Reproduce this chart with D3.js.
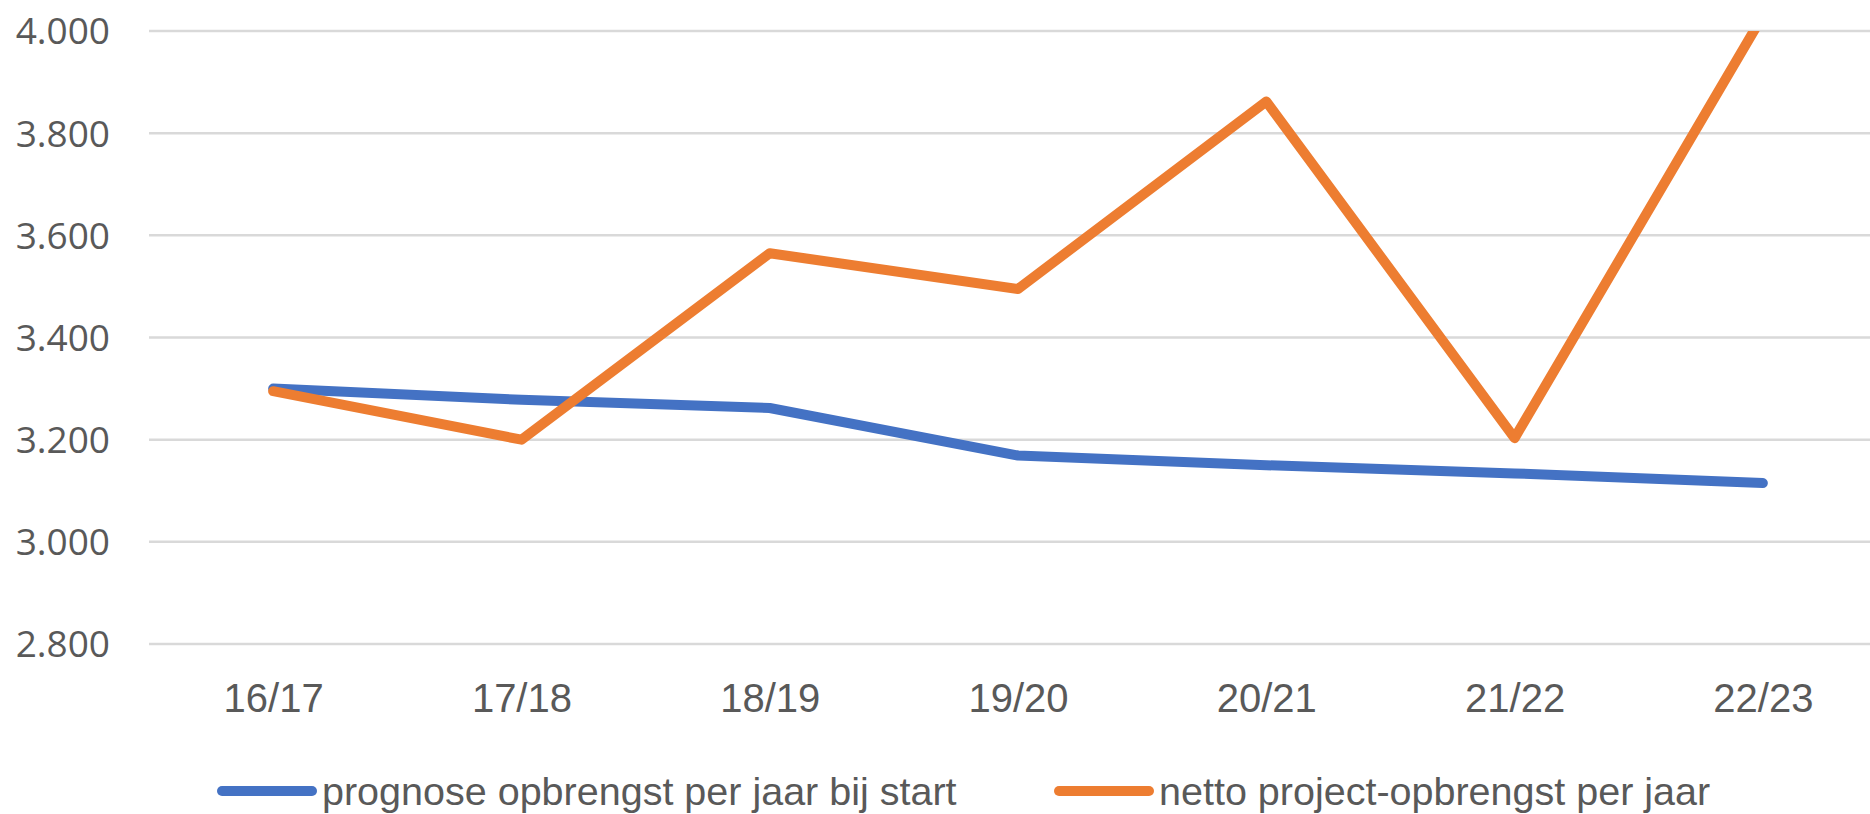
<!DOCTYPE html>
<html>
<head>
<meta charset="utf-8">
<script src="https://cdn.jsdelivr.net/npm/d3@7"></script>
<style>
  body { margin: 0; background: #fff; }
  svg { display: block; }
</style>
</head>
<body>
<div id="chart"></div>
<script>
// data
const years = ["16/17", "17/18", "18/19", "19/20", "20/21", "21/22", "22/23"];
const prognose = [3300, 3278, 3262, 3169, 3150, 3134, 3115];
const netto = [3295, 3200, 3565, 3495, 3862, 3203, 4030];
const yTicks = [2800, 3000, 3200, 3400, 3600, 3800, 4000];
const seriesNames = ["prognose opbrengst per jaar bij start", "netto project-opbrengst per jaar"];
const seriesColors = ["#4472C4", "#ED7D31"];

const W = 1870, H = 814;
const plotLeft = 149, plotRight = 1887, plotTop = 31, plotBottom = 644;

const svg = d3.select("#chart").append("svg")
    .attr("width", W)
    .attr("height", H);

const x = d3.scalePoint()
    .domain(years)
    .range([plotLeft, plotRight])
    .padding(0.5);

const y = d3.scaleLinear()
    .domain([2800, 4000])
    .range([plotBottom, plotTop]);

// gridlines
svg.append("g")
    .selectAll("line")
    .data(yTicks)
    .enter()
    .append("line")
    .attr("x1", plotLeft)
    .attr("x2", plotRight)
    .attr("y1", d => y(d))
    .attr("y2", d => y(d))
    .attr("stroke", "#d9d9d9")
    .attr("stroke-width", 2.5);

// y axis labels
const yAxis = d3.axisLeft(y)
    .tickValues(yTicks)
    .tickSize(0)
    .tickPadding(0)
    .tickFormat(d => d3.format(",")(d).replace(",", "."));

svg.append("g")
    .attr("transform", "translate(110,0)")
    .call(yAxis)
    .call(g => g.select(".domain").remove())
    .selectAll("text")
    .attr("font-family", "'Open Sans', sans-serif")
    .attr("font-size", 37)
    .attr("fill", "#595959")
    .attr("dy", "0.35em");

// x axis labels
const xAxis = d3.axisBottom(x).tickSize(0).tickPadding(0);
svg.append("g")
    .attr("transform", `translate(0, ${plotBottom})`)
    .call(xAxis)
    .call(g => g.select(".domain").remove())
    .selectAll("text")
    .attr("font-family", "'Liberation Sans', sans-serif")
    .attr("font-size", 40)
    .attr("fill", "#595959")
    .attr("y", 54)
    .attr("dy", "0.35em");

svg.append("clipPath")
    .attr("id", "plotclip")
    .append("rect")
    .attr("x", 0)
    .attr("y", plotTop)
    .attr("width", W)
    .attr("height", H - plotTop);

const line = d3.line()
    .x((d, i) => x(years[i]))
    .y(d => y(d));

const allSeries = [prognose, netto];

svg.append("g")
    .attr("clip-path", "url(#plotclip)")
    .selectAll("path")
    .data(allSeries)
    .enter()
    .append("path")
    .attr("d", d => line(d))
    .attr("fill", "none")
    .attr("stroke", (d, i) => seriesColors[i])
    .attr("stroke-width", 10)
    .attr("stroke-linejoin", "round")
    .attr("stroke-linecap", "round");

// legend
const legendY = 791;
const legendX = [218, 1055];
const legend = svg.append("g")
    .selectAll("g")
    .data(seriesNames)
    .enter()
    .append("g")
    .attr("transform", (d, i) => `translate(${legendX[i]}, ${legendY})`);

legend.append("line")
    .attr("x1", 4)
    .attr("x2", 94)
    .attr("stroke", (d, i) => seriesColors[i])
    .attr("stroke-width", 10)
    .attr("stroke-linecap", "round");

legend.append("text")
    .attr("x", 104)
    .attr("dy", "0.35em")
    .attr("font-family", "'Liberation Sans', sans-serif")
    .attr("font-size", 39.5)
    .attr("fill", "#595959")
    .text(d => d);
</script>
</body>
</html>
